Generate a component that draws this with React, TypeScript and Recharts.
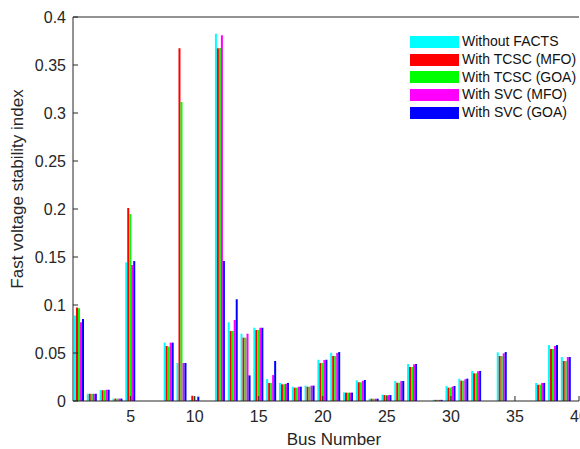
import { BarChart, Bar, XAxis, YAxis, Legend } from "recharts";

const buses = Array.from({ length: 39 }, (_, i) => i + 1);

const withoutFacts = [
  0.089, 0.0075, 0.0115, 0.0025, 0.1444, 0, 0, 0.0608, 0.0396, 0.001,
  0, 0.3826, 0.082, 0.0701, 0.0764, 0.0229, 0.0188, 0.0149, 0.016, 0.043,
  0.0503, 0.009, 0.0215, 0.0025, 0.0066, 0.0208, 0.0385, 0, 0.0012, 0.0156,
  0.0233, 0.0313, 0, 0.0507, 0, 0, 0.0188, 0.0583, 0.0458,
];
const tcscMfo = [
  0.0975, 0.0075, 0.0112, 0.0025, 0.201, 0, 0, 0.0573, 0.3674, 0.0055,
  0, 0.3674, 0.0729, 0.066, 0.074, 0.0188, 0.0174, 0.0139, 0.0149, 0.0396,
  0.0469, 0.0087, 0.0195, 0.0024, 0.0062, 0.019, 0.0354, 0, 0.0012, 0.0139,
  0.0212, 0.0288, 0, 0.0469, 0, 0, 0.017, 0.0542, 0.0417,
];
const tcscGoa = [
  0.0965, 0.0075, 0.0112, 0.0025, 0.1948, 0, 0, 0.0566, 0.3115, 0.005,
  0, 0.3677, 0.0729, 0.066, 0.074, 0.0188, 0.0174, 0.0139, 0.0149, 0.0396,
  0.0469, 0.0087, 0.0195, 0.0024, 0.0062, 0.019, 0.0354, 0, 0.0012, 0.0139,
  0.0212, 0.0288, 0, 0.0469, 0, 0, 0.017, 0.0542, 0.0417,
];
const svcMfo = [
  0.082, 0.0075, 0.0117, 0.0025, 0.1417, 0, 0, 0.0608, 0.0396, 0.001,
  0, 0.381, 0.0844, 0.0701, 0.0763, 0.027, 0.018, 0.0149, 0.016, 0.0427,
  0.05, 0.0087, 0.021, 0.0024, 0.0062, 0.0208, 0.0382, 0, 0.0012, 0.015,
  0.0226, 0.031, 0, 0.0497, 0, 0, 0.0188, 0.0573, 0.0458,
];
const svcGoa = [
  0.0854, 0.0075, 0.0117, 0.0025, 0.1458, 0, 0, 0.0608, 0.0396, 0.0045,
  0, 0.1458, 0.106, 0.0267, 0.0763, 0.0417, 0.0188, 0.0149, 0.016, 0.043,
  0.051, 0.0087, 0.0219, 0.0024, 0.0062, 0.0208, 0.0385, 0, 0.0012, 0.0156,
  0.0233, 0.0313, 0, 0.051, 0, 0, 0.0188, 0.0583, 0.0458,
];

const xTicks = [5, 10, 15, 20, 25, 30, 35, 40];
const yTicks = [0, 0.05, 0.1, 0.15, 0.2, 0.25, 0.3, 0.35, 0.4];

const series = [
  { key: "withoutFacts", name: "Without FACTS", color: "#00ffff" },
  { key: "tcscMfo", name: "With TCSC (MFO)", color: "#ff0000" },
  { key: "tcscGoa", name: "With TCSC (GOA)", color: "#00ff00" },
  { key: "svcMfo", name: "With SVC (MFO)", color: "#ff00ff" },
  { key: "svcGoa", name: "With SVC (GOA)", color: "#0000ff" },
];

const data = buses.map((bus, i) => ({
  bus,
  withoutFacts: withoutFacts[i],
  tcscMfo: tcscMfo[i],
  tcscGoa: tcscGoa[i],
  svcMfo: svcMfo[i],
  svcGoa: svcGoa[i],
}));

const FONT = "'Liberation Sans', Arial, sans-serif";
const INK = "#262626";

// matlab-ish legend: plain swatches, no border
function LegendBox() {
  return (
    <div style={{ fontFamily: FONT, fontSize: 14, color: "#111", whiteSpace: "nowrap" }}>
      {series.map((s) => (
        <div key={s.key} style={{ display: "flex", alignItems: "center", height: 17.8 }}>
          <span style={{ width: 49, height: 12, background: s.color, marginRight: 3, flex: "none" }} />
          <span style={{ lineHeight: "17.8px" }}>{s.name}</span>
        </div>
      ))}
    </div>
  );
}

export default function App() {
  return (
    <div
      style={{
        position: "absolute",
        top: 0,
        left: 0,
        width: 580,
        height: 449,
        overflow: "hidden",
        background: "#fff",
      }}
    >
      <BarChart
        width={580}
        height={449}
        data={data}
        margin={{ top: 16, right: 1, bottom: 0, left: 0 }}
        barGap={0}
        barSize={2}
      >
        <XAxis
          dataKey="bus"
          type="number"
          domain={[0.5, 40]}
          allowDataOverflow
          ticks={xTicks}
          interval={0}
          height={48}
          tickSize={-5}
          tickMargin={15}
          stroke={INK}
          tick={{ fill: INK, fontSize: 16, fontFamily: FONT }}
          label={{
            value: "Bus Number",
            position: "center",
            dx: 8,
            dy: 14,
            fill: INK,
            fontSize: 17,
            fontFamily: FONT,
          }}
        />
        <XAxis
          xAxisId="top"
          orientation="top"
          type="number"
          domain={[0.5, 40]}
          allowDataOverflow
          ticks={xTicks}
          interval={0}
          height={1}
          tickSize={-5}
          tick={false}
          stroke={INK}
        />
        <YAxis
          type="number"
          domain={[0, 0.4]}
          ticks={yTicks}
          interval={0}
          width={73}
          tickSize={-5}
          tickMargin={12}
          stroke={INK}
          tick={{ fill: INK, fontSize: 16, fontFamily: FONT }}
          label={{
            value: "Fast voltage stability index",
            angle: -90,
            position: "center",
            dx: -20,
            dy: -20,
            fill: INK,
            fontSize: 17,
            fontFamily: FONT,
          }}
        />
        <Legend
          layout="vertical"
          align="center"
          verticalAlign="middle"
          wrapperStyle={{ left: 410, top: 33, width: 170 }}
          content={() => <LegendBox />}
        />
        {series.map((s) => (
          <Bar
            key={s.key}
            dataKey={s.key}
            name={s.name}
            fill={s.color}
            isAnimationActive={false}
          />
        ))}
      </BarChart>
    </div>
  );
}
